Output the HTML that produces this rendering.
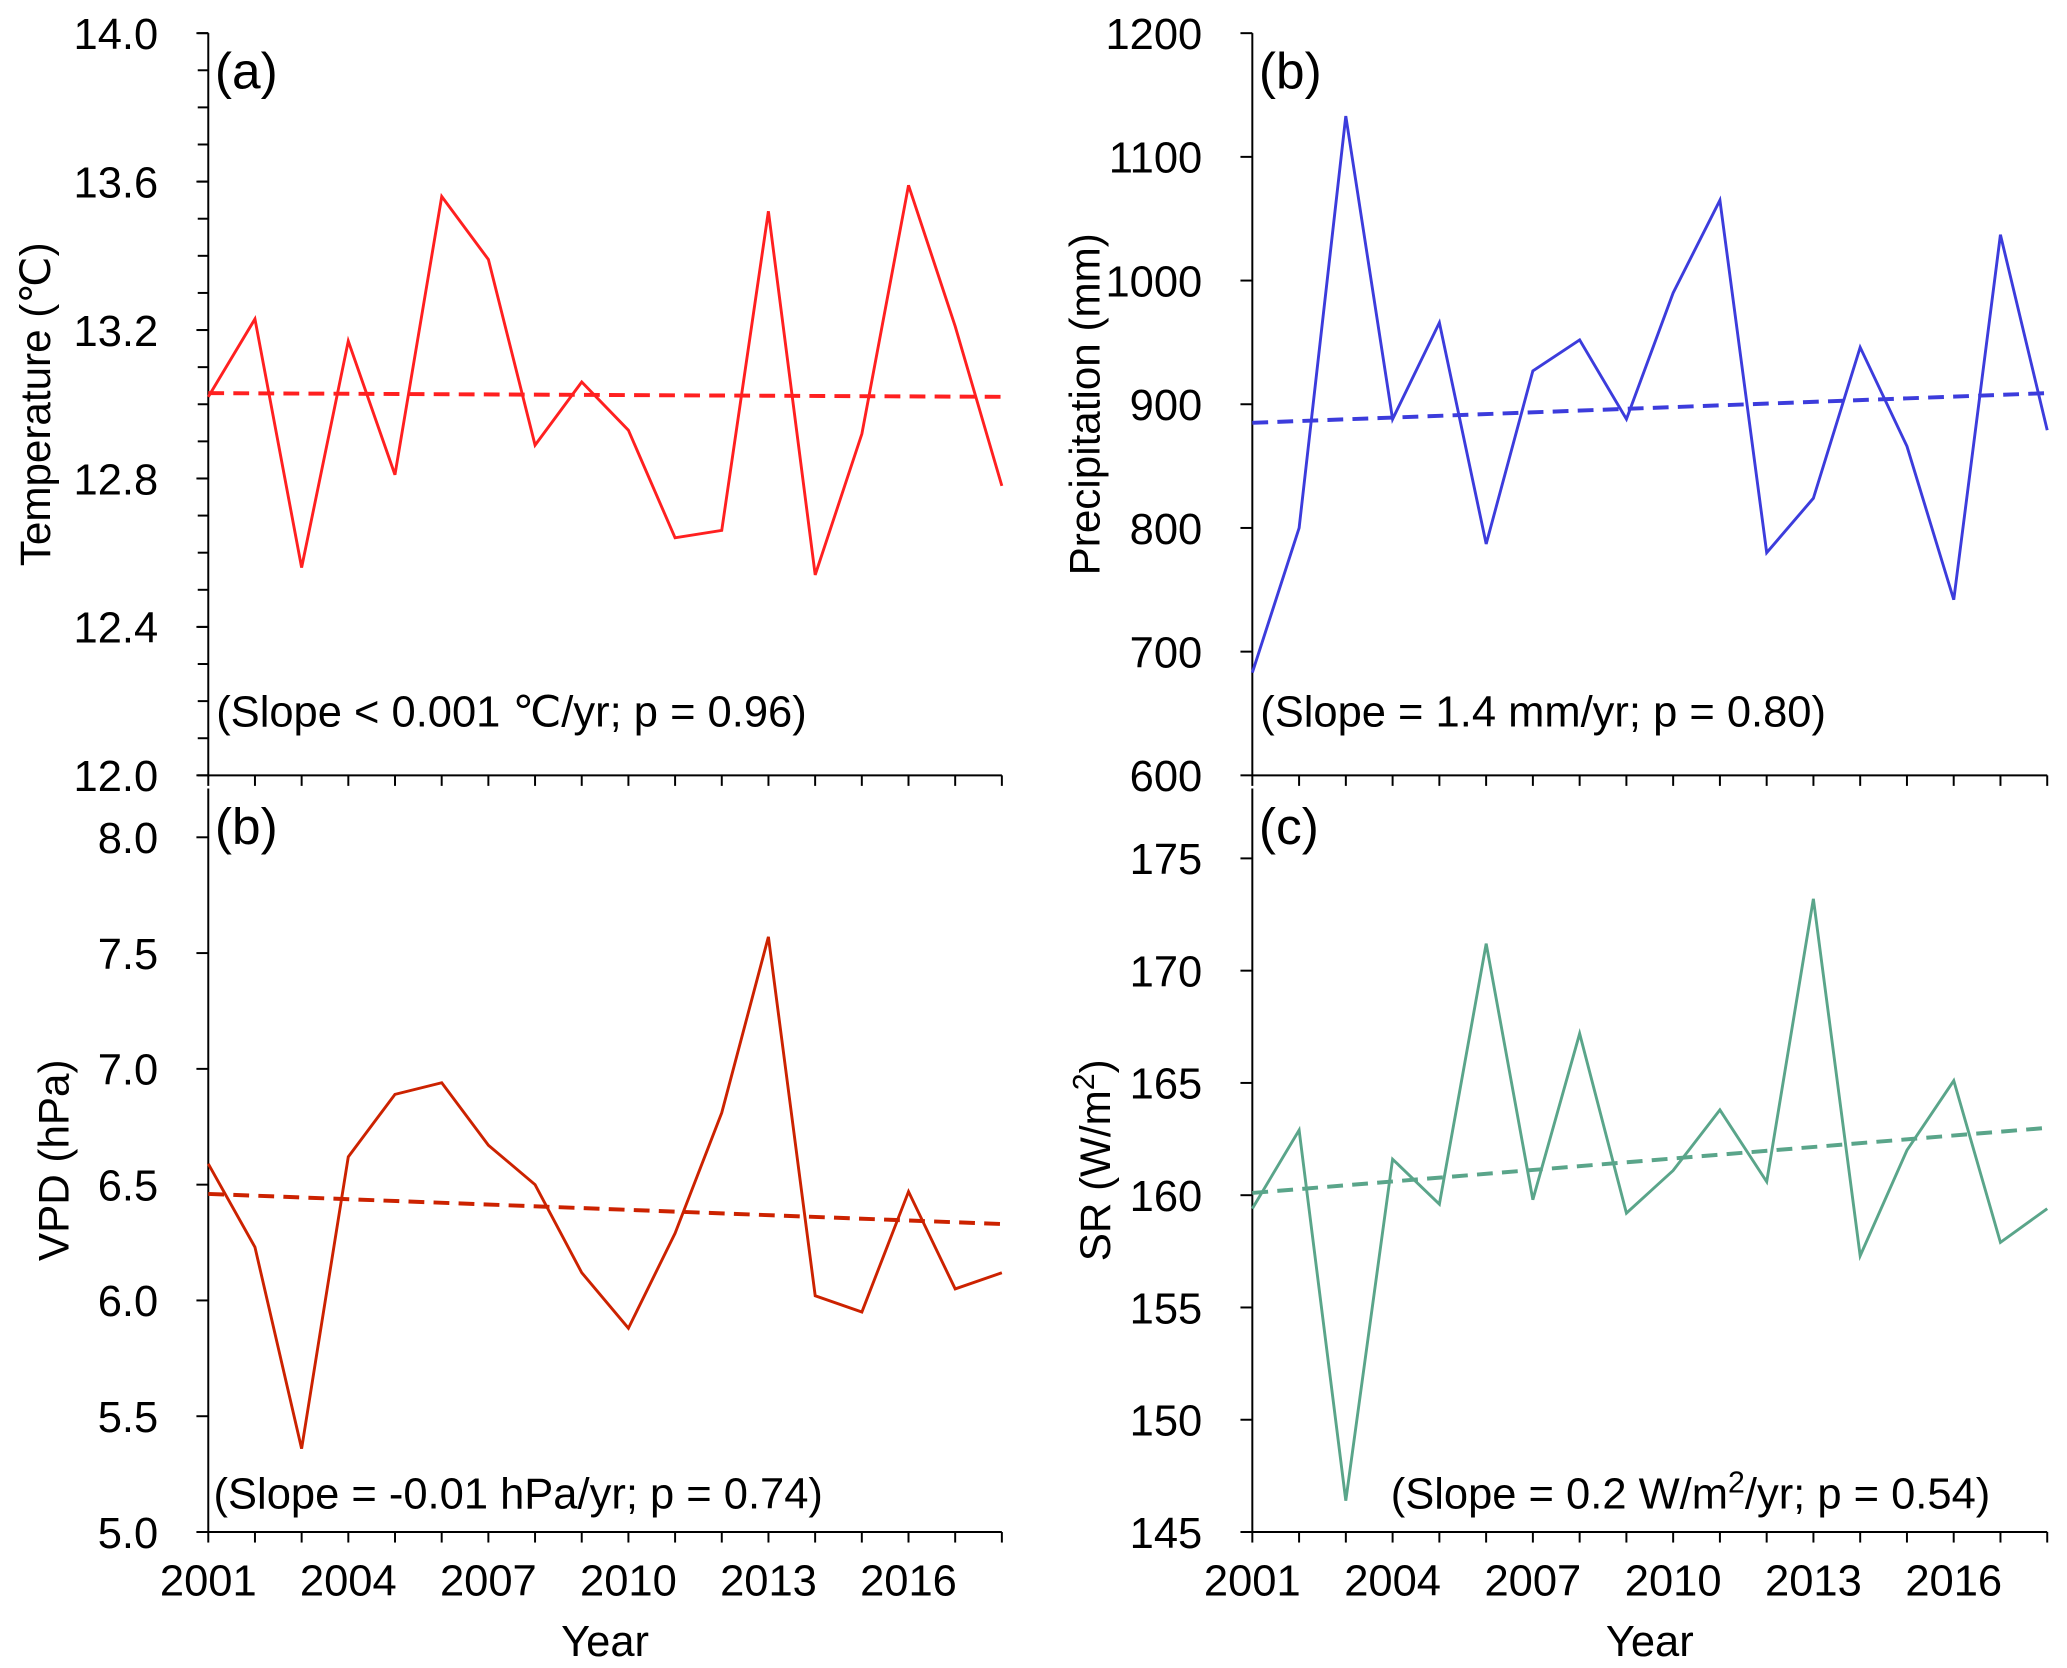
<!DOCTYPE html>
<html><head><meta charset="utf-8"><style>
html,body{margin:0;padding:0;background:#fff;}
svg{display:block;font-family:"Liberation Sans",Arial,sans-serif;}
</style></head><body>
<svg id="fig" width="2067" height="1668" viewBox="0 0 1568 1265" xmlns="http://www.w3.org/2000/svg"></svg>
<script>
const years=[2001,2002,2003,2004,2005,2006,2007,2008,2009,2010,2011,2012,2013,2014,2015,2016,2017,2018];
const xTicks=[2001,2004,2007,2010,2013,2016];
const tempVals=[13.02,13.23,12.56,13.17,12.81,13.56,13.39,12.89,13.06,12.93,12.64,12.66,13.52,12.54,12.92,13.59,13.21,12.78];
const tempTrend=[13.03,13.02];
const tempTicks=[12.0,12.4,12.8,13.2,13.6,14.0];
const precVals=[683,800,1133,888,966,787,927,952,888,990,1065,780,824,946,866,742,1037,879];
const precTrend=[885,909];
const precTicks=[600,700,800,900,1000,1100,1200];
const vpdVals=[6.59,6.23,5.36,6.62,6.89,6.94,6.67,6.50,6.12,5.88,6.29,6.81,7.57,6.02,5.95,6.47,6.05,6.12];
const vpdTrend=[6.46,6.33];
const vpdTicks=[5.0,5.5,6.0,6.5,7.0,7.5,8.0];
const srVals=[159.4,162.9,146.4,161.6,159.6,171.2,159.8,167.2,159.2,161.1,163.8,160.6,173.2,157.3,162.0,165.1,157.9,159.4];
const srTrend=[160.1,163.0];
const srTicks=[145,150,155,160,165,170,175];

const svg=document.getElementById('fig');
const NS='http://www.w3.org/2000/svg';
function mk(tag,attrs,parent){const e=document.createElementNS(NS,tag);for(const k in attrs)e.setAttribute(k,attrs[k]);(parent||svg).appendChild(e);return e;}

function panel(p){
  const g=mk('g',{});
  
  
  const xs=y=>p.x0+(y-2001)*(p.x1-p.x0)/17;
  const ys=v=>p.yb-(v-p.vmin)*(p.yb-p.yt)/(p.vmax-p.vmin);
  const ya=mk('line',{x1:p.x0,y1:p.axTop,x2:p.x0,y2:p.yb,stroke:'#000','stroke-width':1.5},g);
  
  
  const xa=mk('line',{x1:p.x0,y1:p.yb,x2:p.x1,y2:p.yb,stroke:'#000','stroke-width':1.5},g);
  
  
  years.forEach(y=>{mk('line',{x1:xs(y),y1:p.yb,x2:xs(y),y2:p.yb+8,stroke:'#000','stroke-width':1.5},g);});
  if(p.minor){
    for(let v=p.vmin;v<=p.vmax+1e-9;v+=p.minor){
      mk('line',{x1:p.x0-8,y1:ys(v),x2:p.x0,y2:ys(v),stroke:'#000','stroke-width':1.5},g);
    }
  }
  p.ticks.forEach(v=>{
    mk('line',{x1:p.x0-9,y1:ys(v),x2:p.x0,y2:ys(v),stroke:'#000','stroke-width':1.5},g);
    const t=mk('text',{x:p.x0-38,y:ys(v)+12,'text-anchor':'end','font-size':33},g);
    
    
    t.textContent=p.fmt(v);
  });
  if(p.xlabels){
    xTicks.forEach(y=>{
      const t=mk('text',{x:xs(y),y:p.yb+48,'text-anchor':'middle','font-size':33},g);
      
      
      t.textContent=y;
    });
    const xt=mk('text',{x:(p.x0+p.x1)/2,y:p.yb+94,'text-anchor':'middle','font-size':33},g);
    
    
    xt.textContent='Year';
  }
  const cy=(p.axTop+p.yb)/2;
  const yt=mk('text',{x:p.titleX,y:cy,'text-anchor':'middle','font-size':32,transform:`rotate(-90 ${p.titleX} ${cy})`},g);
  
  
  yt.innerHTML=p.title;
  const pts=p.vals.map((v,i)=>xs(years[i]).toFixed(1)+','+ys(v).toFixed(1)).join(' ');
  const ln=mk('polyline',{points:pts,fill:'none',stroke:p.color,'stroke-width':2.2,'stroke-linejoin':'miter'},g);
  
  
  const tr=mk('line',{x1:xs(2001),y1:ys(p.trend[0]),x2:xs(2018),y2:ys(p.trend[1]),stroke:p.color,'stroke-width':3,'stroke-dasharray':'12,7'},g);
  
  
  const pl=mk('text',{x:p.x0+5,y:p.axTop+42,'font-size':39},g);
  
  
  pl.textContent=p.label;
  const an=mk('text',{x:p.annX,y:p.annY,'font-size':33},g);
  
  
  an.innerHTML=p.ann;
}
panel({name:'temperature-panel',x0:158,x1:760,yt:25,yb:588,axTop:25,vmin:12,vmax:14,minor:0.1,ticks:tempTicks,fmt:v=>v.toFixed(1),vals:tempVals,trend:tempTrend,color:'#ff2020',title:'Temperature (℃)',titleX:38,label:'(a)',ann:'(Slope &lt; 0.001 ℃/yr; p = 0.96)',annX:164,annY:551,xlabels:false});
panel({name:'precipitation-panel',x0:950,x1:1553,yt:25,yb:588,axTop:25,vmin:600,vmax:1200,ticks:precTicks,fmt:v=>v,vals:precVals,trend:precTrend,color:'#3c3cdc',title:'Precipitation (mm)',titleX:834,label:'(b)',ann:'(Slope = 1.4 mm/yr; p = 0.80)',annX:956,annY:551,xlabels:false});
panel({name:'vpd-panel',x0:158,x1:760,yt:635,yb:1162,axTop:598,vmin:5,vmax:8,ticks:vpdTicks,fmt:v=>v.toFixed(1),vals:vpdVals,trend:vpdTrend,color:'#cc2200',title:'VPD (hPa)',titleX:52,label:'(b)',ann:'(Slope = -0.01 hPa/yr; p = 0.74)',annX:162,annY:1144,xlabels:true});
panel({name:'solar-radiation-panel',x0:950,x1:1553,yt:651,yb:1162,axTop:598,vmin:145,vmax:175,ticks:srTicks,fmt:v=>v,vals:srVals,trend:srTrend,color:'#5aa58a',title:'SR (W/m<tspan dy="-12" font-size="23">2</tspan><tspan dy="12">)</tspan>',titleX:842,label:'(c)',ann:'(Slope = 0.2 W/m<tspan dy="-12" font-size="23">2</tspan><tspan dy="12">/yr; p = 0.54)</tspan>',annX:1055,annY:1144,xlabels:true});
</script>
</body></html>
